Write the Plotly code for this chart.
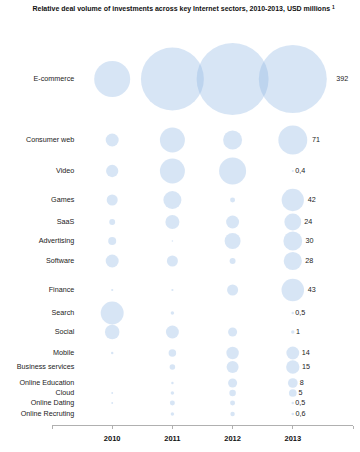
import plotly.graph_objects as go

# ---- data ----
categories = ["E-commerce", "Consumer web", "Video", "Games", "SaaS", "Advertising",
              "Software", "Finance", "Search", "Social", "Mobile", "Business services",
              "Online Education", "Cloud", "Online Dating", "Online Recruting"]
years = [2010, 2011, 2012, 2013]
v2010 = [110, 14.3, 12.8, 10.3, 3.0, 5.4, 14.3, 0.4, 44.8, 17.8, 0.5, None, None, 0.3, 0.3, None]
v2011 = [336, 53, 53, 27.5, 16.6, 0.2, 10.3, 0.4, 1.0, 14.3, 4.8, 2.6, 0.5, 1.0, 2.1, 1.0]
v2012 = [439, 30.6, 62, 2.1, 14.3, 21.7, 3.0, 10.3, None, 6.9, 13.2, 12.2, 6.9, 3.6, 2.1, 1.7]
v2013 = [392, 71, 0.4, 42, 24, 30, 28, 43, 0.5, 1, 14, 15, 8, 5, 0.5, 0.6]
labels2013 = ["392", "71", "0,4", "42", "24", "30", "28", "43", "0,5", "1", "14", "15",
              "8", "5", "0,5", "0,6"]
xticks = [2010, 2011, 2012, 2013]
xticktext = ["2010", "2011", "2012", "2013"]
xends = [2009, 2014]
title = ("<b>Relative deal volume of investments across key Internet sectors, "
         "2010-2013, USD millions <sup>1</sup></b>")

# ---- layout helpers (row placement, uneven spacing as in the original) ----
row_y = [79, 140, 171, 200, 222, 241, 261, 290, 313, 332, 353, 367, 383, 393, 403, 414]

FONT = "Liberation Sans Narrow, Liberation Sans, Arial, sans-serif"
max_d = 68
sizeref = 2 * 392 / max_d ** 2
fill = "rgba(141,180,226,0.5)"

fig = go.Figure()
series = [v2010, v2011, v2012, v2013]
for yr, vals in zip(years, series):
    xs, ys, ss, tx = [], [], [], []
    for i, v in enumerate(vals):
        if v is None:
            continue
        xs.append(yr)
        ys.append(row_y[i])
        ss.append(v)
        tx.append(labels2013[i] if yr == 2013 else "")
    fig.add_trace(go.Scatter(
        x=xs, y=ys, mode="markers+text" if yr == 2013 else "markers",
        text=tx if yr == 2013 else None,
        textposition="middle right",
        textfont=dict(family=FONT, size=7.2, color="#222"),
        marker=dict(size=ss, sizemode="area", sizeref=sizeref, sizemin=0.8,
                    color=fill, line=dict(width=0)),
        cliponaxis=False, hoverinfo="skip", showlegend=False))

# category labels
fig.add_trace(go.Scatter(
    x=[2009.37] * len(categories), y=row_y, mode="text", text=categories,
    textposition="middle left",
    textfont=dict(family=FONT, size=7.2, color="#222"),
    cliponaxis=False, hoverinfo="skip", showlegend=False))

fig.update_layout(
    width=360, height=452,
    margin=dict(l=52, r=7, t=30, b=27),
    paper_bgcolor="white", plot_bgcolor="white",
    title=dict(text=title, x=0.51, xanchor="center", y=0.98, yanchor="middle",
               yref="container", font=dict(family=FONT, size=7, color="#111")),
    xaxis=dict(range=[2009, 2014], tickvals=xticks, ticktext=xticktext,
               showgrid=False, zeroline=False, showline=True, linecolor="#b0b0b0",
               linewidth=1, ticks="outside", ticklen=3, tickcolor="#b0b0b0",
               tickfont=dict(family=FONT, size=7.5, color="#111", weight="bold"),
               ticklabelstandoff=3,
               minor=dict(tickmode="array", tickvals=xends, ticks="outside",
                          ticklen=3, tickcolor="#b0b0b0", showgrid=False)),
    yaxis=dict(range=[425, 30], showgrid=False, zeroline=False, showline=False,
               showticklabels=False, ticks=""),
)

fig.write_html("out.html", config={"displayModeBar": False},
               post_script="document.body.style.margin='0';document.body.style.padding='0';")
